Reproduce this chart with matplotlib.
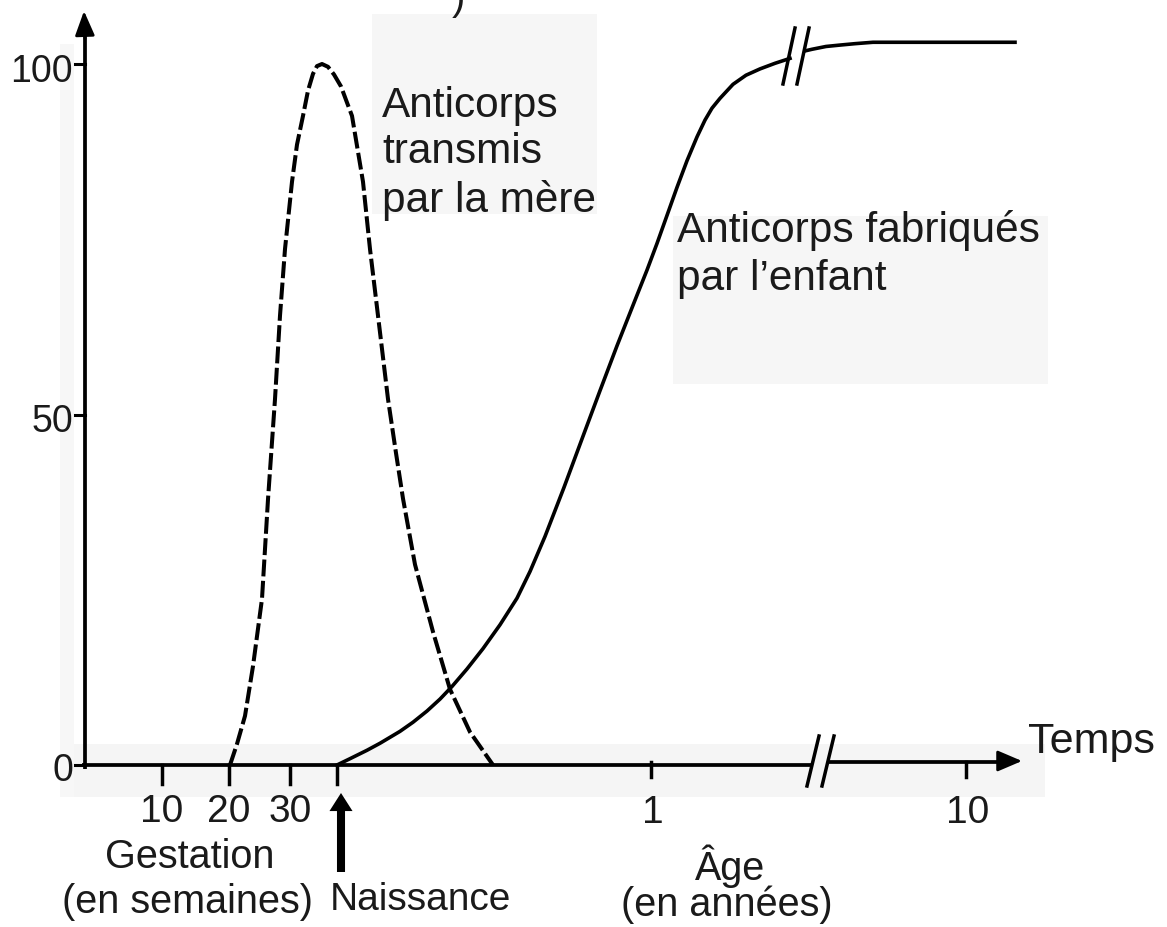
import matplotlib.pyplot as plt
from matplotlib.patches import Rectangle

plt.rcParams['font.family'] = ['Liberation Sans', 'DejaVu Sans']

# courbe en tirets : anticorps transmis par la mere (position sur l'axe du temps, taux %)
mere_x = [230, 237, 245, 253, 262, 268, 275, 280, 285, 292, 297, 303, 308, 313, 317, 322,
          328, 334, 341, 347, 352, 363, 370, 378, 388, 396, 403, 415, 433, 450, 470, 493]
mere_y = [0, 3.0, 7.0, 14.1, 23.7, 37.9, 52.2, 64.1, 73.6, 83.2, 88.5, 92.6, 96.2, 98.6, 99.7, 100,
          99.6, 98.5, 96.8, 94.5, 92.6, 83.2, 73.6, 64.1, 52.2, 44.5, 38.0, 28.6, 19.0, 10.8, 4.7, 0]

# courbe pleine : anticorps fabriques par l'enfant (avant / apres la coupure)
enfant_x1 = [337, 350, 367, 380, 400, 413, 427, 440, 452, 467, 483, 500, 517, 530, 545,
             564, 583, 600, 617, 635, 647, 657, 667, 677, 687, 697, 705, 712, 720, 733,
             746, 760, 775, 790]
enfant_y1 = [0, 0.9, 2.1, 3.1, 4.8, 6.1, 7.7, 9.4, 11.2, 13.7, 16.6, 20.0, 23.8, 27.6, 32.6,
             39.6, 46.9, 53.4, 59.8, 66.3, 70.6, 74.4, 78.4, 82.4, 86.2, 89.6, 92.0, 93.7, 95.1, 97.1,
             98.4, 99.3, 100.1, 100.8]
enfant_x2 = [806, 812, 826, 840, 855, 873, 1015]
enfant_y2 = [101.9, 102.1, 102.5, 102.7, 102.9, 103.1, 103.1]

# graduations
y_ticks = [0, 50, 100]
gest_pos = [162, 229, 290]
gest_labels = ['10', '20', '30']
age_pos = [651, 966]
age_labels = ['1', '10']
naissance_pos = 337

BASE = 766      # ligne du 0 dans l'image
PX = 7.01       # pixels par unite


def lv(py):
    # ligne de pixel -> valeur sur l'axe vertical
    return (BASE - py) / PX


fig = plt.figure(figsize=(11.67, 9.28), dpi=100)
ax = fig.add_axes([0, 0, 1, 1])
ax.set_xlim(0, 1167)
ax.set_ylim(lv(928), lv(0))
ax.set_axis_off()

txt = '#1a1a1a'

# fonds gris du scan
ax.add_patch(Rectangle((60, lv(798)), 985, lv(745) - lv(798), fc='#f5f5f5', ec='none', zorder=0))
ax.add_patch(Rectangle((60, lv(798)), 14, lv(45) - lv(798), fc='#f7f7f7', ec='none', zorder=0))
ax.add_patch(Rectangle((372, lv(215)), 225, lv(15) - lv(215), fc='#f6f6f6', ec='none', zorder=0))
ax.add_patch(Rectangle((673, lv(385)), 375, lv(217) - lv(385), fc='#f6f6f6', ec='none', zorder=0))

# axes
ax.plot([85, 85], [lv(770), lv(30)], color='k', lw=2.7, solid_capstyle='butt')
ax.annotate('', xy=(84, lv(12)), xytext=(85, lv(40)),
            arrowprops=dict(arrowstyle='-|>,head_length=0.75,head_width=0.3',
                            mutation_scale=20, lw=2, color='k', shrinkA=0, shrinkB=0))
ax.plot([82, 811], [0, 0], color='k', lw=2.7, solid_capstyle='butt')
ax.plot([828, 1005], [lv(763), lv(763)], color='k', lw=2.7, solid_capstyle='butt')
ax.annotate('', xy=(1022, lv(762)), xytext=(1000, lv(762)),
            arrowprops=dict(arrowstyle='-|>,head_length=0.75,head_width=0.32',
                            mutation_scale=20, lw=2, color='k', shrinkA=0, shrinkB=0))

# coupures sur l'axe
for x0 in [807, 822]:
    ax.plot([x0, x0 + 12], [lv(787), lv(737)], color='k', lw=2.5)

# graduations verticales
for v in y_ticks:
    ax.plot([75, 85], [v, v], color='k', lw=2.2)
ax.text(73, lv(82), '100', ha='right', va='baseline', fontsize=27, color=txt)
ax.text(73, lv(432), '50', ha='right', va='baseline', fontsize=27, color=txt)
ax.text(73, lv(781), '0', ha='right', va='baseline', fontsize=27, color=txt)

# graduations horizontales
for x, lab in zip(gest_pos, gest_labels):
    ax.plot([x, x], [0, lv(785)], color='k', lw=2.5)
    ax.text(x, lv(822), lab, ha='center', va='baseline', fontsize=28, color=txt)
ax.plot([naissance_pos, naissance_pos], [0, lv(785)], color='k', lw=2.5)
for x, lab in zip(age_pos, age_labels):
    ax.plot([x, x], [lv(763), lv(778)], color='k', lw=2.5)
    ax.text(x + 2, lv(823), lab, ha='center', va='baseline', fontsize=28, color=txt)

# courbes
ax.plot(mere_x, mere_y, color='k', lw=2.9, dashes=(4.2, 1.1))
ax.plot(enfant_x1, enfant_y1, color='k', lw=2.6)
ax.plot(enfant_x2, enfant_y2, color='k', lw=2.6)
for x0 in [783, 797]:
    ax.plot([x0, x0 + 12], [lv(85), lv(29)], color='k', lw=2.5)

# fleche naissance
ax.annotate('', xy=(341, lv(794)), xytext=(341, lv(873)),
            arrowprops=dict(arrowstyle='simple,head_length=0.65,head_width=0.83,tail_width=0.29',
                            mutation_scale=20, fc='k', ec='none', shrinkA=0, shrinkB=0))

# textes
ax.text(382, lv(117), 'Anticorps', fontsize=30.5, va='baseline', color=txt)
ax.text(382, lv(163), 'transmis', fontsize=30.5, va='baseline', color=txt)
ax.text(382, lv(212), 'par la mère', fontsize=30.5, va='baseline', color=txt)
ax.text(677, lv(242), 'Anticorps fabriqués', fontsize=30.5, va='baseline', color=txt)
ax.text(677, lv(290), 'par l\u2019enfant', fontsize=30.5, va='baseline', color=txt)
ax.text(1028, lv(753), 'Temps', fontsize=31, va='baseline', color=txt)
ax.text(190, lv(868), 'Gestation', fontsize=28.5, ha='center', va='baseline', color=txt)
ax.text(188, lv(913), '(en semaines)', fontsize=28.5, ha='center', va='baseline', color=txt)
ax.text(330, lv(910), 'Naissance', fontsize=28, va='baseline', color=txt)
ax.text(730, lv(880), 'Âge', fontsize=28.5, ha='center', va='baseline', color=txt)
ax.text(727, lv(916), '(en années)', fontsize=28.5, ha='center', va='baseline', color=txt)
ax.text(452, lv(10), ')', fontsize=29, va='baseline', color=txt)

fig.savefig('out.png', dpi=100)
